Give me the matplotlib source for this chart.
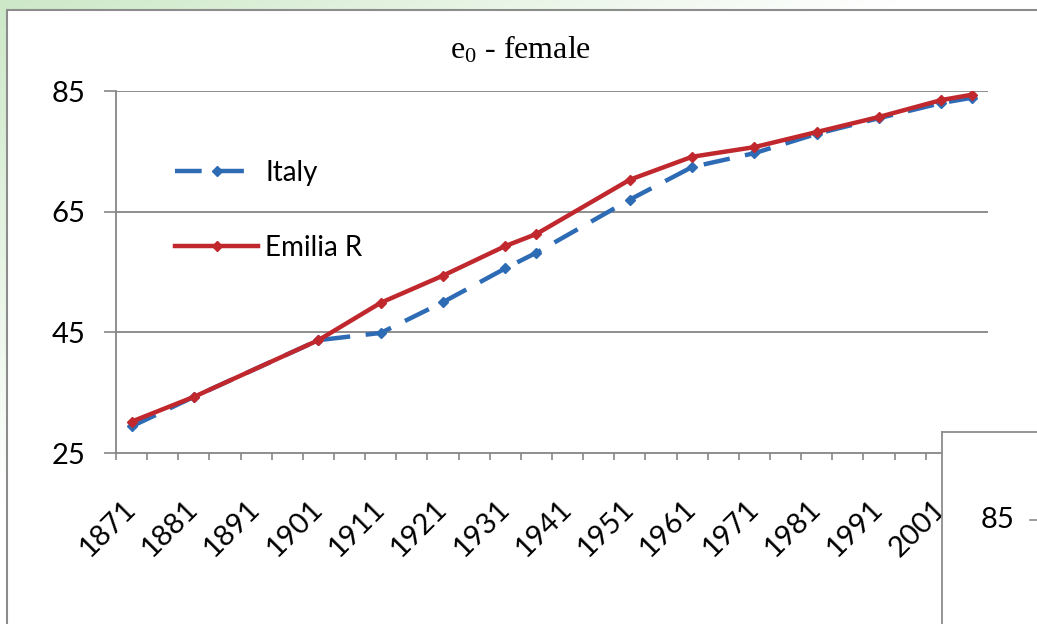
import numpy as np
import matplotlib.pyplot as plt
from matplotlib.patches import Rectangle

# data
years_it = [1871, 1881, 1901, 1911, 1921, 1931, 1936, 1951, 1961, 1971, 1981, 1991, 2001, 2006]
italy = [29.4, 34.3, 43.7, 44.9, 50.0, 55.6, 58.2, 67.0, 72.4, 74.7, 77.9, 80.5, 83.0, 83.9]
years_er = [1871, 1881, 1901, 1911, 1921, 1931, 1936, 1951, 1961, 1971, 1981, 1991, 2001, 2006]
emilia = [30.2, 34.3, 43.7, 49.9, 54.4, 59.3, 61.3, 70.3, 74.1, 75.7, 78.2, 80.7, 83.5, 84.4]
year_labels = list(range(1871, 2002, 10))
y_ticks = [25, 45, 65, 85]

plt.rcParams['mathtext.fontset'] = 'custom'
plt.rcParams['mathtext.rm'] = 'Liberation Serif'
plt.rcParams['mathtext.it'] = 'Liberation Serif:italic'

W, H = 1037, 624
fig = plt.figure(figsize=(W / 100, H / 100), dpi=100)

# slide background: light green corner fading out
bg = fig.add_axes([0, 0, 1, 1], zorder=-2)
xx, yy = np.meshgrid(np.arange(W), np.arange(H))
wgt = np.clip(1 - (xx / 900 + yy / 500), 0, 1)[..., None]
green = np.array([0.80, 0.91, 0.78])
bg.imshow(1 - wgt * (1 - green), extent=[0, W, H, 0], aspect='auto')
bg.set_xlim(0, W)
bg.set_ylim(H, 0)
bg.axis('off')
# chart frame
bg.add_patch(Rectangle((7, 10), W, H, facecolor='white', edgecolor='#8c8c8c', lw=1.5))

ax = fig.add_axes([116 / W, 1 - 453 / H, 872 / W, 362 / H])
ax.plot(years_it, italy, color='#2E6BB5', lw=3.2, ls=(0, (6, 3.5)), marker='D', ms=5, label='Italy', zorder=3)
ax.plot(years_er, emilia, color='#C0282E', lw=3.2, marker='D', ms=5, label='Emilia R', zorder=4)

ax.set_xlim(1868.5, 2008.5)
ax.set_ylim(25, 85)
ax.set_xticks(np.arange(1868.5, 2009, 5))
ax.set_xticklabels([])
ax.set_xticks(year_labels, minor=True)
ax.set_xticklabels([str(y) for y in year_labels], minor=True, rotation=45, ha='right', va='center',
                   rotation_mode='anchor', fontsize=21, family='Lato')
ax.tick_params(axis='x', which='major', length=5, width=1.2, color='#868686', direction='out')
ax.tick_params(axis='x', which='minor', length=0, pad=37)
ax.set_yticks(y_ticks)
ax.set_yticklabels([str(v) for v in y_ticks], fontsize=21, family='Lato')
ax.tick_params(axis='y', length=9, width=1.2, color='#868686', pad=13)
for v in y_ticks[1:]:
    ax.axhline(v, color='#868686', lw=1.3, zorder=1)
for s in ['top', 'right']:
    ax.spines[s].set_visible(False)
for s in ['left', 'bottom']:
    ax.spines[s].set_color('#868686')
    ax.spines[s].set_linewidth(1.3)

fig.text(521 / W, 1 - 50 / H, r'e$_0$ - female', fontsize=23, family='Liberation Serif',
         ha='center', va='center')

leg = ax.legend(loc='upper left', bbox_to_anchor=(175 / W, 1 - 160 / H), bbox_transform=fig.transFigure,
                frameon=False, borderpad=0, borderaxespad=0, handlelength=3.0, handletextpad=0.25,
                labelspacing=1.75, prop={'family': 'Lato', 'size': 20})

# frame of the neighbouring chart, overlapping the bottom right corner
ov = fig.add_axes([942 / W, 0, (W - 942) / W, (H - 432) / H], zorder=5)
ov.set_facecolor('white')
ov.set_xlim(0, W - 942)
ov.set_ylim(H - 432, 0)
ov.set_xticks([])
ov.set_yticks([])
for s in ['right', 'bottom']:
    ov.spines[s].set_visible(False)
for s in ['left', 'top']:
    ov.spines[s].set_color('#8c8c8c')
    ov.spines[s].set_linewidth(1.3)
ov.text(56, 88, '85', fontsize=21, family='Lato', ha='center', va='center')
ov.plot([88, 95], [88, 88], color='#8c8c8c', lw=1.2)

fig.savefig('out.png', dpi=100)
